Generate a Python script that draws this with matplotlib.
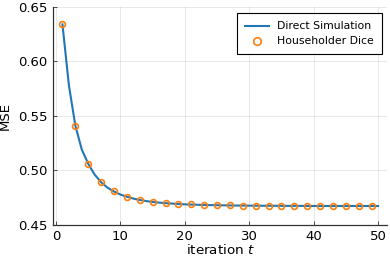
import matplotlib
matplotlib.use("Agg")
import matplotlib.pyplot as plt
import numpy as np

iterations = list(range(1, 51))
direct_mse = [0.634, 0.578, 0.541, 0.519, 0.506, 0.496, 0.489, 0.484, 0.4805, 0.4777,
              0.4757, 0.4740, 0.4727, 0.4717, 0.4709, 0.4703, 0.4698, 0.4694, 0.4690, 0.4687,
              0.4685, 0.4683, 0.4681, 0.4680, 0.4679, 0.4678, 0.4677, 0.4676, 0.4676, 0.4675,
              0.4675, 0.4674, 0.4674, 0.4674, 0.4673, 0.4673, 0.4673, 0.4673, 0.4672, 0.4672,
              0.4672, 0.4672, 0.4672, 0.4672, 0.4672, 0.4672, 0.4672, 0.4672, 0.4672, 0.4672]
hh_iterations = list(range(1, 50, 2))
hh_mse = [0.634, 0.541, 0.506, 0.489, 0.4807, 0.4755, 0.4727, 0.4709, 0.4699, 0.4690,
          0.4686, 0.4681, 0.4679, 0.4677, 0.4676, 0.4675, 0.4674, 0.4673, 0.4673, 0.4672,
          0.4672, 0.4672, 0.4672, 0.4672, 0.4672]
xticks = [0, 10, 20, 30, 40, 50]
yticks = [0.45, 0.50, 0.55, 0.60, 0.65]

fig = plt.figure(figsize=(3.9, 2.6), dpi=100)
ax = fig.add_axes([53/390, 1-224.7/260, (387.5-53)/390, (224.7-7)/260])

ax.plot(iterations, direct_mse, color="#1f77b4", lw=1.5, label="Direct Simulation", zorder=2)
ax.plot(hh_iterations, hh_mse, ls="none", marker="o", ms=4.2, mfc="none", mec="#ff7f0e",
        mew=1.2, label="Householder Dice", zorder=3)

ax.set_xlim(-0.47, 51.47)
ax.set_ylim(0.45, 0.65)
ax.set_xticks(xticks)
ax.set_yticks(yticks)
ax.set_yticklabels([f"{v:.2f}" for v in yticks])
ax.grid(True, color="black", alpha=0.1, lw=0.6)
ax.set_axisbelow(True)
for s in ["top", "right"]:
    ax.spines[s].set_visible(False)
for s in ["left", "bottom"]:
    ax.spines[s].set_linewidth(0.9)
    ax.spines[s].set_color("#333333")
ax.tick_params(direction="in", length=3, width=0.6, labelsize=9.5, pad=4, colors="#333333",
               labelcolor="black")
ax.set_xlabel("iteration $t$", fontsize=9.7, labelpad=0)
ax.set_ylabel("MSE", fontsize=9.5, labelpad=4.3)
leg = ax.legend(loc="upper right", fontsize=7.8, frameon=True, fancybox=False,
                edgecolor="black", framealpha=1, borderpad=0.75, labelspacing=0.45,
                handlelength=2.2, handletextpad=0.8, markerscale=1.3, borderaxespad=0,
                bbox_to_anchor=(0.9845, 0.971))
leg.get_frame().set_linewidth(0.8)

fig.savefig("out.png", dpi=100)
